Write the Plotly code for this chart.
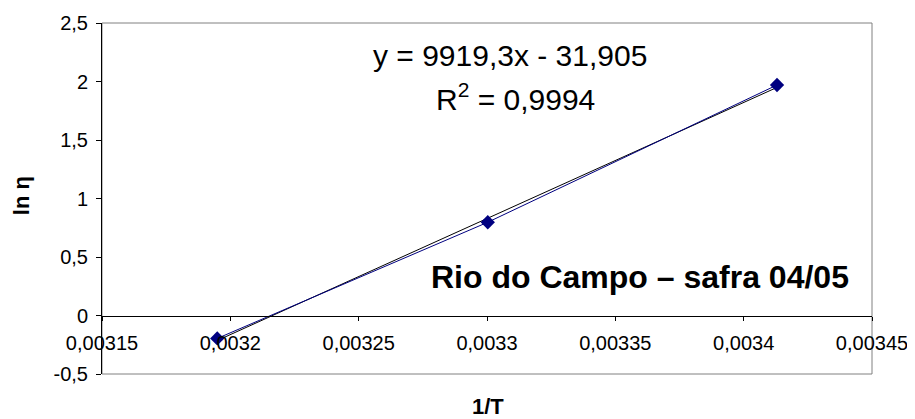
import plotly.graph_objects as go

# Data
inv_T = [0.0031949, 0.0033003, 0.0034130]
ln_eta = [-0.196, 0.797, 1.970]

# Linear trendline coefficients (as displayed)
slope = 9919.3
intercept = -31.905

x_ticks = [0.00315, 0.0032, 0.00325, 0.0033, 0.00335, 0.0034, 0.00345]
x_ticktext = ["0,00315", "0,0032", "0,00325", "0,0033", "0,00335", "0,0034", "0,00345"]
y_ticks = [-0.5, 0, 0.5, 1, 1.5, 2, 2.5]
y_ticktext = ["-0,5", "0", "0,5", "1", "1,5", "2", "2,5"]

FONT = "Arial, Liberation Sans, sans-serif"

trend_x = [min(inv_T), max(inv_T)]
trend_y = [slope * v + intercept for v in trend_x]

fig = go.Figure()
fig.add_trace(go.Scatter(
    x=trend_x, y=trend_y, mode="lines",
    line=dict(color="black", width=1), showlegend=False, hoverinfo="skip"))
fig.add_trace(go.Scatter(
    x=inv_T, y=ln_eta, mode="lines+markers",
    line=dict(color="#000080", width=1),
    marker=dict(symbol="diamond", size=11, color="#000080"),
    showlegend=False))

fig.update_layout(
    template="none",
    autosize=False,
    width=907, height=411,
    margin=dict(l=94, r=43, t=15, b=45, pad=0),
    paper_bgcolor="white", plot_bgcolor="white",
    font=dict(family=FONT, size=20, color="black"),
    xaxis=dict(
        range=[0.00315, 0.00345], tickmode="array", tickvals=x_ticks, ticktext=x_ticktext,
        showgrid=False, zeroline=False, showline=True, linecolor="black", linewidth=1,
        ticks="outside", ticklen=4, tickcolor="black", anchor="free", position=1/6,
        ticklabelstandoff=5, tickfont=dict(size=20), automargin=False,
    ),
    yaxis=dict(
        range=[-0.5, 2.5], tickmode="array", tickvals=y_ticks, ticktext=y_ticktext,
        showgrid=False, zeroline=False, showline=True, linecolor="black", linewidth=1,
        ticks="outside", ticklen=5, tickcolor="black", tickfont=dict(size=20),
        ticklabelstandoff=4, automargin=False,
    ),
    shapes=[dict(type="rect", xref="paper", yref="paper", x0=0, y0=0, x1=1, y1=1,
                 line=dict(color="#808080", width=1), fillcolor="rgba(0,0,0,0)", layer="below")],
    annotations=[
        dict(text="y = 9919,3x - 31,905", xref="paper", yref="paper", x=0.53, y=0.906,
             showarrow=False, font=dict(size=30), xanchor="center", yanchor="middle"),
        dict(text="R<sup>2</sup> = 0,9994", xref="paper", yref="paper", x=0.537, y=0.789,
             showarrow=False, font=dict(size=30), xanchor="center", yanchor="middle"),
        dict(text="<b>Rio do Campo – safra 04/05</b>", xref="paper", yref="paper", x=0.699, y=0.276,
             showarrow=False, font=dict(size=32), xanchor="center", yanchor="middle"),
        dict(text="<b>1/T</b>", xref="paper", yref="paper", x=0.501, y=-0.094,
             showarrow=False, font=dict(size=22), xanchor="center", yanchor="middle"),
        dict(text="<b>ln η</b>", xref="paper", yref="paper", x=-0.105, y=0.507, textangle=-90,
             showarrow=False, font=dict(size=22), xanchor="center", yanchor="middle"),
    ],
)

fig.write_html("out.html")
